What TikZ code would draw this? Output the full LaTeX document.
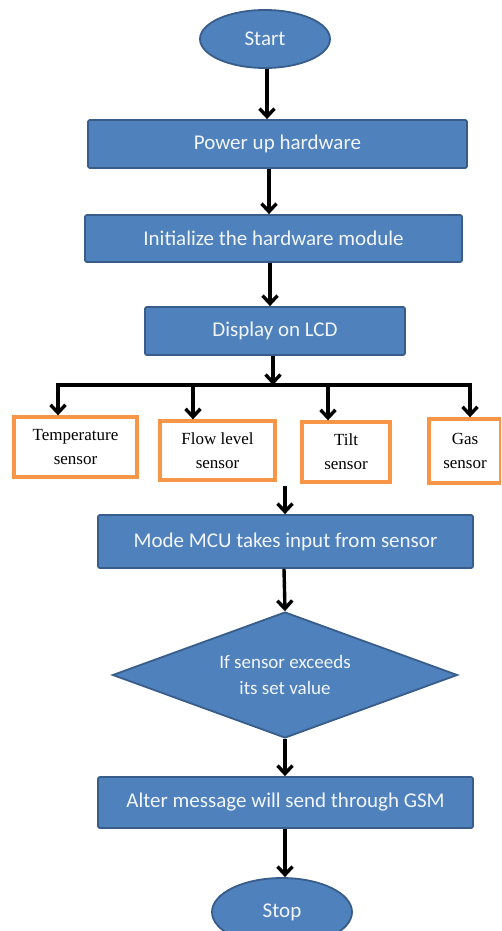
\documentclass[tikz,border=0pt]{standalone}
\usepackage{fontspec}
\setmainfont{Liberation Serif}
\newfontfamily\boxfont{Carlito}
\usetikzlibrary{shapes.geometric,arrows.meta}
\definecolor{boxblue}{HTML}{4F81BD}
\definecolor{bordblue}{HTML}{385D8A}
\definecolor{txtwhite}{HTML}{F2F6FB}
\definecolor{sensorange}{HTML}{F79646}
\begin{document}
\begin{tikzpicture}[x=1pt,y=-1pt,
  blockbox/.style={draw=bordblue, line width=1.8pt, fill=boxblue, rounded corners=2pt,
    text=txtwhite, font=\boxfont\fontsize{21}{25}\selectfont, inner sep=0pt},
  termnode/.style={ellipse, draw=bordblue, line width=1.8pt, fill=boxblue,
    text=txtwhite, font=\boxfont\fontsize{21}{25}\selectfont, inner sep=0pt},
  sensorbox/.style={draw=sensorange, line width=3.4pt, fill=white, align=center,
    font=\fontsize{17}{24}\selectfont, inner sep=0pt},
  decbox/.style={diamond, aspect=2.74, draw=bordblue, line width=1.8pt, fill=boxblue, align=center,
    text=txtwhite, font=\boxfont\fontsize{19}{26}\selectfont, inner sep=0pt},
  arr/.style={line width=3.4pt, -{Straight Barb[length=8pt,width=15pt]}},
  plain/.style={line width=3.4pt}]
\useasboundingbox (0,0) rectangle (501,931);
\clip (0,0) rectangle (501,931);

\node[termnode, minimum width=130pt, minimum height=58pt] (start) at (265,39) {Start};
\node[blockbox, minimum width=379pt, minimum height=48pt] (power) at (277.5,144) {Power up hardware};
\node[blockbox, minimum width=377pt, minimum height=47pt] (init) at (273.5,238.5) {Initialize the hardware module};
\node[blockbox, minimum width=260pt, minimum height=48pt] (disp) at (275,331) {Display on LCD};

\node[sensorbox, minimum width=123pt, minimum height=60pt] (temp) at (75.5,447) {Temperature\\sensor};
\node[sensorbox, minimum width=115pt, minimum height=59pt] (flow) at (217.5,450.5) {Flow level\\sensor};
\node[sensorbox, minimum width=88pt, minimum height=60pt] (tilt) at (346,452) {Tilt\\sensor};
\node[sensorbox, minimum width=72pt, minimum height=64pt] (gas) at (465,451) {Gas\\sensor};

\node[blockbox, minimum width=375pt, minimum height=53pt] (mode) at (285.5,541.5) {Mode MCU takes input from sensor};
\node[decbox, minimum width=345pt, minimum height=126pt] (dec) at (285,675) {If sensor exceeds\\its set value};
\node[blockbox, minimum width=375pt, minimum height=51pt] (gsm) at (285.5,802.5) {Alter message will send through GSM};
\node[termnode, minimum width=140pt, minimum height=68pt] (stop) at (282,912) {Stop};

% branch bar
\coordinate (bl) at (58,385);
\coordinate (bm) at (273,385);
\coordinate (br) at (470,385);
\coordinate (b2) at (193,385);
\coordinate (b3) at (328,385);
\coordinate (sensout) at (285,486);

\draw[arr] ([xshift=2pt]start.south) -- ([xshift=2pt]start.south |- power.north);
\draw[arr] ([xshift=-8.5pt]power.south) -- ([xshift=-8.5pt]power.south |- init.north);
\draw[arr] ([xshift=-3.5pt]init.south) -- ([xshift=-3.5pt]init.south |- disp.north);
\draw[arr] ([xshift=-2pt]disp.south) -- (bm);
\draw[plain, line cap=rect] (bl) -- (br);
\draw[arr] (bl) -- (bl |- temp.north);
\draw[arr] (b2) -- (b2 |- flow.north);
\draw[arr] (b3) -- (b3 |- tilt.north);
\draw[arr] (br) -- (br |- gas.north);
\draw[arr] (sensout) -- (sensout |- mode.north);
\draw[arr] ([xshift=-1.5pt]mode.south) -- (dec.north);
\draw[arr] (dec.south) -- (dec.south |- gsm.north);
\draw[arr] ([xshift=-0.5pt]gsm.south) -- ([xshift=-0.5pt]gsm.south |- stop.north);
\end{tikzpicture}
\end{document}
